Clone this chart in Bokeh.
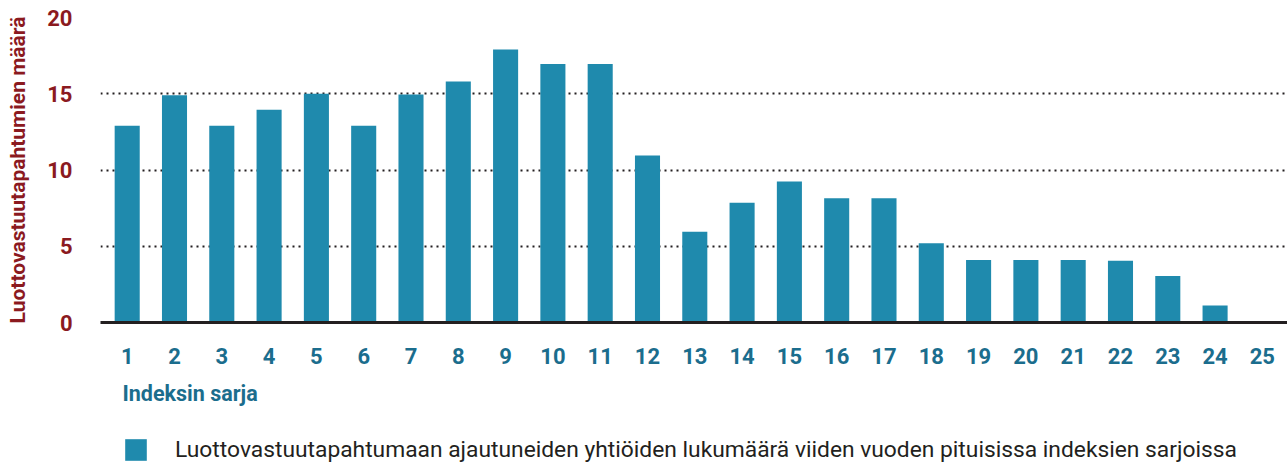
from bokeh.plotting import figure
from bokeh.layouts import column
from bokeh.models import ColumnDataSource, Legend, LegendItem, Title, FixedTicker, Range1d
from bokeh.embed import file_html
from bokeh.resources import INLINE

# ---- data ----
series = list(range(1, 26))
counts = [12.9, 14.9, 12.9, 13.95, 15.0, 12.9, 14.95, 15.8, 17.9, 16.95, 16.95,
          10.95, 5.95, 7.85, 9.25, 8.15, 8.15, 5.2, 4.1, 4.1, 4.1, 4.05, 3.05, 1.12, 0.0]
y_ticks = [0, 5, 10, 15, 20]
y_title = "Luottovastuutapahtumien määrä"
x_title = "Indeksin sarja"
legend_text = "Luottovastuutapahtumaan ajautuneiden yhtiöiden lukumäärä viiden vuoden pituisissa indeksien sarjoissa"

BAR = "#1f8aad"
RED = "#8b1a1f"
TEAL = "#1b6d8d"
DARK = "#231f20"
FONT = "Roboto"

src = ColumnDataSource(dict(x=series, y=counts))

p = figure(width=1287, height=418,
           x_range=Range1d(0.4355, 25.531), y_range=Range1d(0, 20),
           output_backend="svg", toolbar_location=None,
           min_border_left=100, min_border_right=0, min_border_top=17, min_border_bottom=96)
p.outline_line_color = None
p.background_fill_color = "white"
p.border_fill_color = "white"

r = p.vbar(x="x", top="y", width=0.53, source=src, color=BAR, line_color=None)

# grid
p.xgrid.visible = False
p.ygrid.ticker = FixedTicker(ticks=[5, 10, 15, 20])
p.ygrid.grid_line_color = DARK
p.ygrid.grid_line_width = 2
p.ygrid.grid_line_dash = "2 4"

# y axis
ya = p.yaxis[0]
ya.ticker = FixedTicker(ticks=y_ticks)
ya.axis_line_color = None
ya.major_tick_line_color = None
ya.minor_tick_line_color = None
ya.major_label_text_font = FONT
ya.major_label_text_font_style = "bold"
ya.major_label_text_font_size = "22px"
ya.major_label_text_color = RED
ya.major_label_standoff = 22
ya.axis_label = y_title
ya.axis_label_text_font = FONT
ya.axis_label_text_font_style = "bold"
ya.axis_label_text_font_size = "21px"
ya.axis_label_text_color = RED
ya.axis_label_standoff = 14

# x axis
xa = p.xaxis[0]
xa.ticker = FixedTicker(ticks=series)
xa.axis_line_color = DARK
xa.axis_line_width = 3
xa.major_tick_line_color = None
xa.minor_tick_line_color = None
xa.major_label_text_font = FONT
xa.major_label_text_font_style = "bold"
xa.major_label_text_font_size = "22px"
xa.major_label_text_color = TEAL
xa.major_label_standoff = 19

p.add_layout(Title(text=x_title, align="left", offset=22, standoff=25,
                   text_font=FONT, text_font_style="bold", text_font_size="21.5px",
                   text_color=TEAL), "below")

# ---- legend strip ----
q = figure(width=1287, height=48, x_range=Range1d(0.4355, 25.531), y_range=Range1d(0, 20),
           output_backend="svg", toolbar_location=None,
           x_axis_type=None, y_axis_type=None,
           min_border_left=0, min_border_right=0, min_border_top=0, min_border_bottom=0)
q.outline_line_color = None
q.grid.visible = False
lr = q.vbar(x="x", top="y", width=0.53, source=src, color=BAR, line_color=None, visible=False)

legend = Legend(items=[LegendItem(label=legend_text, renderers=[lr])],
                location=(22, 3), orientation="horizontal",
                glyph_width=27, glyph_height=27, label_height=27,
                label_standoff=26, padding=0, margin=0, spacing=0,
                border_line_color=None, background_fill_alpha=0,
                inactive_fill_alpha=0,
                label_text_font=FONT, label_text_font_size="22.8px",
                label_text_color=DARK)
q.add_layout(legend, "center")

open("out.html", "w").write(file_html(column(p, q, spacing=0), INLINE))
